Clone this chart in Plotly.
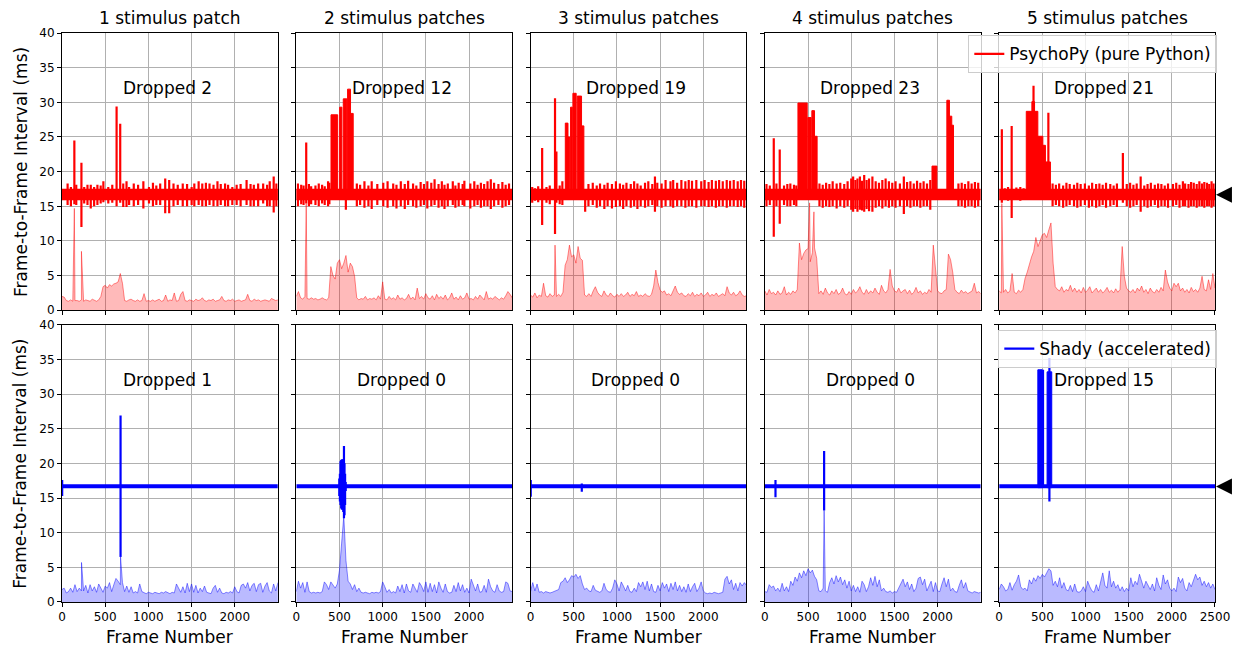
import plotly.graph_objects as go
from plotly.subplots import make_subplots

# ---------------- data ----------------
panel_titles = ["1 stimulus patch", "2 stimulus patches", "3 stimulus patches",
                "4 stimulus patches", "5 stimulus patches"]
psy_dropped = [2, 12, 19, 23, 21]
shady_dropped = [1, 0, 0, 0, 15]
x_max = [2499, 2499, 2499, 2499, 2500]
x_ticks = [0, 500, 1000, 1500, 2000, 2500]
y_ticks = [0, 5, 10, 15, 20, 25, 30, 35, 40]
target_interval = 16.67

# frames at which the jitter (lower, shaded) series was read
sd_frames = list(range(0, 2501, 25))

psy_sd = [
    [2.0, 1.9, 1.4, 1.3, 1.5, 1.3, 1.4, 1.4, 1.3, 1.5,
     1.3, 1.5, 1.4, 1.3, 1.6, 1.4, 1.3, 1.5, 2.0, 3.4,
     3.6, 3.2, 3.7, 3.5, 3.8, 3.9, 4.1, 5.3, 3.9, 1.4,
     1.3, 1.5, 1.6, 1.4, 1.3, 1.5, 1.3, 1.4, 2.4, 1.3,
     1.4, 1.3, 1.5, 1.3, 1.4, 1.6, 1.3, 1.4, 2.2, 1.3,
     1.5, 1.4, 2.5, 1.3, 1.4, 2.3, 2.7, 1.4, 1.3, 1.5,
     1.4, 1.3, 1.6, 1.4, 1.5, 1.8, 1.4, 1.3, 1.5, 1.4,
     1.6, 1.3, 1.4, 1.5, 2.0, 1.4, 1.3, 1.5, 1.4, 1.6,
     1.3, 1.4, 1.5, 1.3, 1.4, 1.5, 2.3, 1.4, 1.3, 1.6,
     1.4, 1.5, 1.3, 1.4, 1.5, 1.4, 1.3, 1.7, 1.6, 1.4,
     1.5],
    [2.0, 2.7, 1.8, 1.6, 2.0, 1.7, 1.6, 1.8, 1.6, 1.7,
     1.5, 1.6, 1.8, 1.6, 1.5, 1.8, 6.3, 5.0, 4.5, 6.8,
     7.3, 6.0, 6.8, 7.9, 5.5, 6.8, 6.3, 4.9, 1.8, 1.5,
     1.7, 1.6, 2.0, 1.5, 1.7, 1.6, 1.8, 1.5, 2.1, 1.6,
     4.1, 1.6, 1.5, 2.0, 1.6, 1.8, 1.5, 2.2, 1.6, 1.8,
     1.5, 1.7, 2.3, 1.6, 1.9, 1.5, 3.2, 1.7, 2.0, 1.6,
     2.4, 1.8, 1.6, 2.1, 1.5, 2.3, 1.7, 2.0, 1.6, 2.2,
     1.5, 1.8, 2.5, 1.6, 1.9, 1.5, 2.1, 1.6, 1.8, 2.5,
     1.6, 1.7, 1.5, 2.0, 1.6, 2.2, 1.8, 1.5, 2.7, 1.6,
     1.8, 1.6, 2.0, 1.7, 1.5, 1.8, 1.6, 2.1, 2.7, 2.3,
     1.8],
    [2.2, 1.9, 2.5, 1.8, 2.2, 2.0, 3.9, 2.1, 1.9, 2.4,
     2.0, 2.2, 2.0, 2.3, 2.0, 2.6, 6.5, 7.3, 9.4, 7.7,
     8.0, 6.8, 9.2, 7.5, 7.2, 2.2, 2.0, 2.4, 2.0, 2.8,
     3.4, 2.6, 2.2, 2.0, 2.8, 2.2, 2.0, 2.5, 2.1, 1.9,
     2.3, 2.0, 2.4, 2.0, 2.2, 2.6, 2.0, 2.3, 2.1, 2.7,
     2.0, 2.2, 2.0, 2.4, 2.1, 2.0, 2.3, 3.5, 5.8, 4.0,
     2.9, 2.6, 2.8, 2.2, 2.4, 2.1, 2.8, 3.5, 2.6, 2.3,
     2.5, 2.1, 2.0, 2.4, 2.1, 2.6, 2.0, 2.3, 2.1, 2.5,
     2.0, 2.2, 2.6, 2.0, 2.3, 2.1, 2.5, 2.0, 2.2, 2.4,
     2.1, 3.4, 2.5, 2.2, 2.6, 2.1, 2.3, 2.8, 2.2, 2.0,
     2.1],
    [2.8, 2.2, 3.0, 2.4, 2.6, 2.2, 2.8, 2.3, 2.5, 3.4,
     2.2, 2.6, 2.3, 2.8, 2.5, 3.0, 9.7, 7.3, 8.2, 8.7,
     8.9, 7.0, 8.3, 9.0, 7.5, 2.4, 2.8, 2.3, 3.2, 2.5,
     2.2, 2.8, 2.4, 3.0, 2.3, 2.5, 3.2, 2.4, 2.2, 2.7,
     2.3, 3.0, 2.5, 2.8, 3.4, 2.6, 2.3, 3.0, 2.4, 2.8,
     2.5, 3.2, 2.6, 2.3, 3.6, 2.8, 2.5, 3.0, 5.9, 3.5,
     2.8, 2.6, 3.2, 2.5, 2.8, 3.0, 2.4, 2.9, 2.3, 2.6,
     3.3, 2.5, 2.8, 2.3, 2.6, 2.4, 3.0, 2.6, 9.4, 6.0,
     2.8, 2.5, 2.4, 2.8, 3.0, 8.1, 7.3, 5.5, 3.0, 2.6,
     2.4, 2.9, 2.5, 2.7, 2.4, 2.6, 2.8, 3.9, 2.5, 2.7,
     2.4],
    [2.8, 2.5, 2.6, 3.0, 2.5, 2.8, 5.3, 2.6, 2.4, 2.9,
     2.6, 3.0, 4.6, 5.5, 6.8, 7.7, 8.5, 10.5, 9.2, 10.0,
     10.9, 11.1, 10.5, 11.6, 12.6, 6.8, 3.4, 3.0, 2.8, 3.4,
     2.6, 3.0, 2.8, 3.6, 2.7, 3.2, 2.6, 3.0, 2.5, 3.3,
     2.6, 2.9, 3.4, 2.5, 2.8, 3.2, 2.6, 3.0, 2.5, 2.8,
     3.3, 2.6, 2.9, 2.5, 3.1, 2.6, 3.0, 9.2, 4.9, 3.2,
     2.8, 2.6, 3.0, 2.5, 3.2, 2.8, 3.5, 2.6, 3.0, 2.4,
     3.2, 2.7, 2.5, 3.0, 2.6, 3.3, 2.8, 5.8, 4.1, 3.2,
     2.8, 3.9, 3.4, 3.9, 2.8, 3.2, 2.6, 3.0, 2.5, 3.3,
     2.7, 3.0, 2.6, 3.2, 4.9, 3.0, 2.8, 4.4, 3.0, 5.3,
     3.2],
]
psy_sd_extra_x = [[143, 225], [115], [283], [518, 568], [31]]
psy_sd_extra_y = [[14.7, 8.5], [15.4], [9.4], [15.5, 14.2], [15.4]]

shady_sd = [
    [1.8, 2.0, 1.3, 1.5, 2.0, 1.4, 2.5, 1.5, 2.0, 1.6,
     1.6, 2.4, 1.3, 2.5, 1.6, 2.2, 1.4, 2.6, 2.0, 1.4,
     2.3, 2.0, 2.8, 1.5, 2.5, 3.4, 3.0, 2.5, 2.8, 1.5,
     2.3, 1.4, 2.2, 1.3, 1.5, 1.3, 2.6, 1.5, 1.3, 1.2,
     1.4, 1.3, 1.2, 1.4, 1.3, 1.2, 1.4, 1.3, 1.5, 1.3,
     1.2, 1.4, 1.3, 2.6, 2.0, 1.4, 2.2, 1.3, 2.7, 1.5,
     2.6, 1.4, 2.4, 1.3, 2.0, 1.5, 2.3, 1.4, 1.3, 1.2,
     2.0, 2.4, 1.4, 2.0, 1.3, 1.2, 1.4, 1.3, 1.5, 1.3,
     2.2, 1.5, 1.3, 2.4, 2.6, 2.0, 2.8, 1.6, 2.4, 2.7,
     1.5, 2.5, 2.7, 1.4, 2.3, 2.8, 1.6, 1.3, 2.6, 1.6,
     2.8],
    [1.5, 3.0, 2.0, 2.8, 1.4, 2.9, 1.5, 1.3, 1.4, 1.3,
     1.4, 1.3, 1.5, 2.9, 2.5, 1.8, 2.9, 2.4, 2.0, 2.6,
     4.6, 8.5, 12.4, 6.0, 3.0, 2.6, 1.8, 2.5, 1.5, 2.0,
     1.4, 1.3, 1.4, 1.3, 1.2, 1.4, 1.3, 1.4, 1.3, 1.5,
     2.9, 2.2, 1.4, 1.8, 1.3, 1.5, 1.3, 2.3, 1.5, 2.5,
     1.3, 2.6, 1.6, 1.4, 2.6, 2.0, 1.4, 2.8, 2.3, 1.5,
     2.9, 1.4, 2.7, 1.5, 2.5, 1.3, 2.9, 2.0, 1.4, 2.6,
     1.5, 1.3, 1.4, 2.4, 1.5, 2.8, 1.6, 2.5, 1.4, 2.0,
     1.3, 3.3, 2.5, 1.6, 2.6, 1.4, 1.5, 2.4, 1.4, 3.3,
     2.2, 1.6, 1.4, 2.5, 1.6, 1.4, 1.5, 2.9, 2.7, 1.6,
     1.5],
    [1.5, 2.8, 1.6, 2.6, 1.4, 1.5, 1.3, 1.5, 1.4, 1.3,
     1.4, 1.5, 1.6, 1.8, 2.8, 3.0, 3.5, 2.8, 3.2, 3.8,
     3.6, 4.0, 3.4, 3.8, 2.6, 1.8, 2.0, 1.6, 1.5, 2.4,
     1.7, 1.5, 1.4, 1.6, 2.7, 1.8, 1.5, 1.4, 2.0, 3.2,
     2.6, 1.6, 2.9, 2.3, 1.6, 2.4, 1.5, 1.4, 2.0, 1.5,
     2.8, 2.2, 2.9, 1.8, 3.0, 1.6, 2.6, 1.5, 1.4, 2.4,
     1.6, 2.8, 2.0, 2.6, 1.5, 2.7, 1.8, 2.9, 1.6, 2.4,
     1.5, 2.2, 1.4, 2.6, 1.5, 2.2, 2.7, 1.5, 2.0, 2.9,
     1.6, 1.3, 1.2, 1.3, 1.2, 1.4, 1.3, 1.2, 1.3, 1.4,
     3.3, 3.7, 2.6, 3.2, 1.8, 2.7, 1.6, 2.8, 2.3, 2.8,
     2.4],
    [1.5, 1.4, 2.5, 2.1, 2.3, 1.6, 2.0, 1.5, 2.7, 1.6,
     2.2, 1.5, 3.0, 2.4, 3.6, 3.0, 4.2, 3.5, 4.5, 3.8,
     4.8, 4.2, 4.6, 3.7, 3.2, 1.6, 1.5, 2.0, 1.6, 1.4,
     2.8, 3.5, 2.6, 3.8, 2.9, 3.6, 2.5, 3.2, 2.0, 3.0,
     1.6, 2.4, 1.5, 2.2, 1.4, 3.0, 2.5, 1.5, 2.2, 3.5,
     2.4, 3.7, 2.2, 3.2, 1.6, 2.0, 1.5, 1.4, 1.6, 1.3,
     1.5, 1.4, 2.0, 2.6, 3.3, 2.2, 2.9, 1.8, 2.6, 1.5,
     2.0, 3.4, 3.6, 2.5, 3.3, 1.6, 2.4, 3.0, 1.5, 2.8,
     1.6, 1.5, 2.6, 3.5, 2.2, 3.3, 1.6, 2.0, 1.5, 1.4,
     2.4, 3.2, 2.0, 2.8, 1.6, 1.4, 1.3, 1.5, 1.4, 1.3,
     1.4],
    [1.8, 2.6, 2.2, 1.6, 1.8, 2.8, 1.7, 2.5, 3.0, 3.9,
     2.2, 1.8, 2.0, 1.6, 3.2, 2.6, 3.5, 3.0, 3.8, 3.4,
     4.0, 3.6, 4.2, 4.8, 4.5, 2.4, 3.0, 2.2, 3.5, 2.0,
     2.8, 1.8, 1.6, 2.4, 1.5, 2.6, 1.5, 1.4, 1.6, 2.2,
     1.5, 3.0, 2.2, 1.6, 1.4, 2.5, 1.6, 2.8, 4.2, 2.4,
     2.0, 4.5, 2.2, 3.0, 2.0, 2.5, 1.6, 2.2, 1.5, 2.0,
     1.6, 3.5, 2.2, 3.0, 2.5, 4.0, 2.8, 2.0, 3.0, 2.4,
     1.8, 2.6, 1.6, 3.5, 2.4, 1.8, 3.9, 2.6, 3.2, 2.0,
     1.6, 2.0, 1.5, 3.6, 2.8, 3.4, 2.0, 1.6, 2.8, 2.2,
     3.0, 4.0, 3.2, 3.6, 2.4, 3.0, 2.2, 2.8, 2.0, 2.6,
     1.8],
]
shady_sd_extra_x = [[226, 678], [], [], [686], []]
shady_sd_extra_y = [[5.7, 6.5], [], [], [13.2], []]

# PsychoPy frame intervals: steady band, individual excursions, sustained bursts
psy_band_lo = [15.9, 15.9, 15.9, 15.9, 15.9]
psy_band_hi = [17.5, 17.5, 17.5, 17.5, 17.5]

psy_bar_x = [
    [65, 103, 143, 165, 225, 257, 295, 333, 372, 410, 448, 479, 536, 582, 632, 674, 709, 747, 777, 831,
     881, 942, 1007, 1053, 1092, 1137, 1195, 1241, 1291, 1340, 1398, 1448, 1501, 1532, 1582, 1624, 1666,
     1708, 1754, 1800, 1838, 1888, 1923, 1972, 2022, 2068, 2137, 2183, 2221, 2271, 2329, 2375, 2405, 2451, 2482],
    [19, 57, 84, 115, 146, 172, 222, 260, 299, 329, 368, 383, 574, 701, 739, 789, 835, 873, 938, 1007,
     1057, 1122, 1160, 1210, 1256, 1295, 1352, 1390, 1440, 1478, 1517, 1563, 1601, 1647, 1685, 1716, 1754,
     1812, 1842, 1880, 1926, 1946, 2015, 2061, 2099, 2137, 2175, 2214, 2252, 2290, 2340, 2386, 2424, 2463],
    [19, 50, 88, 134, 184, 222, 283, 299, 337, 368, 632, 670, 720, 766, 804, 854, 892, 942, 988, 1034,
     1072, 1110, 1160, 1199, 1237, 1275, 1325, 1363, 1409, 1440, 1467, 1517, 1563, 1620, 1651, 1697, 1746,
     1792, 1831, 1869, 1919, 1976, 2015, 2061, 2099, 2145, 2183, 2225, 2271, 2310, 2352, 2398, 2436, 2474],
    [19, 57, 103, 134, 172, 222, 260, 295, 337, 364, 632, 670, 709, 747, 785, 831, 873, 919, 958, 1000,
     1022, 1048, 1072, 1100, 1125, 1150, 1178, 1206, 1245, 1283, 1321,
     1360, 1398, 1436, 1475, 1513, 1563, 1609, 1647, 1685, 1724, 1762, 1800, 1838, 1877, 1915, 2241, 2279,
     2317, 2356, 2394, 2432, 2470],
    [31, 65, 103, 145, 199, 245, 283, 398, 570, 619, 657, 695, 741, 779, 817, 867, 905, 944, 993, 1039,
     1077, 1123, 1161, 1199, 1238, 1287, 1326, 1364, 1433, 1478, 1517, 1555, 1593, 1639, 1681, 1719, 1757,
     1803, 1841, 1879, 1918, 1956, 2013, 2051, 2089, 2128, 2154, 2193, 2223, 2254, 2288, 2319, 2349, 2376,
     2407, 2433, 2460, 2483],
]
psy_bar_hi = [
    [18.3, 17.8, 24.5, 18.1, 21.3, 17.8, 18.1, 18.1, 17.8, 18.1, 18.0, 18.6, 17.8, 18.1, 29.4, 26.9, 18.3,
     18.6, 17.8, 18.3, 18.1, 18.6, 17.8, 18.4, 18.0, 18.3, 19.0, 18.8, 18.3, 18.1, 18.3, 18.2, 17.8, 18.3,
     18.6, 18.3, 18.4, 18.3, 18.1, 18.6, 18.2, 18.3, 18.1, 17.8, 18.1, 18.2, 18.8, 18.2, 18.1, 18.3, 18.3,
     18.1, 18.6, 19.3, 18.3],
    [18.3, 18.1, 18.0, 24.2, 18.2, 17.9, 18.0, 18.3, 18.1, 17.9, 18.6, 18.4, 17.0, 18.3, 18.1, 18.6, 18.0,
     18.6, 18.2, 18.4, 18.6, 18.3, 18.1, 18.6, 18.2, 18.7, 18.3, 18.0, 18.5, 18.2, 18.6, 18.4, 18.9, 18.2,
     18.6, 18.1, 18.3, 18.6, 18.0, 18.4, 18.2, 18.7, 18.3, 18.6, 18.1, 18.4, 18.2, 18.6, 18.9, 18.4, 18.2,
     18.5, 18.1, 18.3],
    [17.8, 17.6, 17.9, 23.4, 17.8, 18.0, 30.6, 22.9, 18.0, 18.6, 17.5, 18.2, 18.4, 18.0, 18.3, 18.1, 18.4,
     18.2, 18.6, 18.3, 18.1, 18.4, 18.2, 18.6, 18.3, 18.0, 18.4, 18.6, 18.2, 19.3, 18.4, 18.3, 18.8, 18.6,
     18.8, 18.4, 18.8, 18.6, 18.8, 18.7, 18.8, 18.6, 18.8, 18.5, 18.8, 18.7, 18.8, 18.6, 18.8, 18.7, 18.8,
     18.6, 18.8, 18.7],
    [18.2, 18.0, 24.8, 18.3, 23.2, 18.0, 18.2, 18.3, 18.1, 18.0, 18.3, 18.1, 18.4, 18.2, 18.6, 18.3, 18.4,
     18.2, 18.6, 19.0, 19.3, 18.8, 19.0, 19.3, 18.7, 19.5, 18.8, 19.0, 19.3, 18.6, 18.4,
     18.8, 19.0, 18.6, 18.4, 18.6, 18.3, 19.3, 18.5, 18.6, 18.3, 18.7, 18.4, 18.6, 18.3,
     18.8, 18.3, 18.4, 18.2, 18.6, 18.3, 18.5, 18.4],
    [26.1, 17.6, 17.8, 26.6, 17.7, 17.8, 17.6, 32.4, 28.5, 18.3, 18.1, 18.3, 18.0, 18.4, 18.2, 18.1, 18.4,
     18.2, 18.3, 18.0, 18.4, 18.2, 18.3, 18.1, 18.4, 18.2, 18.0, 18.3, 22.7, 18.2, 18.4, 18.1, 18.3, 19.3,
     18.0, 18.2, 18.4, 18.1, 18.3, 18.2, 18.0, 18.3, 18.2, 18.4, 18.1, 18.6, 18.3, 18.2, 18.5, 18.4, 18.2,
     18.6, 18.3, 18.5, 18.4, 18.2, 18.6, 18.3],
]
psy_bar_lo = [
    [15.2, 15.0, 15.3, 15.2, 12.0, 15.4, 15.2, 14.7, 15.0, 15.2, 15.4, 15.6, 15.4, 15.5, 15.0, 15.5, 14.9,
     14.9, 15.2, 15.0, 15.2, 14.7, 15.4, 15.0, 15.2, 15.2, 14.0, 14.0, 15.0, 15.2, 15.0, 15.0, 15.2, 15.0,
     15.2, 15.0, 15.0, 15.2, 15.0, 15.0, 15.2, 15.0, 15.0, 15.2, 15.2, 15.0, 15.2, 15.0, 15.0, 15.0, 15.4,
     15.0, 15.0, 14.1, 15.0],
    [15.0, 15.3, 15.2, 15.4, 15.0, 15.3, 15.2, 15.0, 15.4, 15.2, 15.0, 15.3, 14.5, 15.0, 15.2, 14.8, 15.0,
     14.6, 15.2, 15.0, 14.8, 15.0, 14.7, 15.0, 14.6, 15.2, 15.0, 14.8, 15.0, 15.2, 14.7, 15.0, 15.2, 14.8,
     15.0, 14.6, 15.0, 15.2, 14.8, 15.0, 15.2, 15.0, 14.7, 15.0, 15.2, 14.8, 15.0, 15.0, 14.6, 15.0, 15.2,
     14.8, 15.0, 15.2],
    [15.5, 15.8, 15.6, 12.3, 15.5, 15.3, 11.0, 15.5, 15.3, 15.2, 14.2, 15.0, 15.2, 14.8, 15.0, 14.6, 15.0,
     14.7, 14.9, 15.0, 14.6, 15.0, 14.8, 15.0, 14.6, 15.0, 14.8, 15.0, 15.2, 14.2, 15.0, 14.8, 15.0, 15.0,
     14.8, 15.0, 15.0, 14.8, 15.0, 15.0, 14.8, 15.0, 15.0, 14.9, 15.0, 14.8, 15.0, 15.0, 14.8, 15.0, 15.0,
     14.9, 15.0, 14.8],
    [15.0, 15.2, 10.6, 15.0, 12.5, 15.2, 15.0, 15.0, 15.2, 15.0, 15.0, 14.8, 15.0, 14.9, 15.0, 14.7, 15.0,
     14.8, 15.0, 14.5, 14.2, 14.6, 14.2, 14.5, 14.4, 14.2, 14.6, 14.3, 14.2, 14.8, 15.0,
     14.7, 15.0, 14.8, 15.0, 14.8, 15.0, 13.9, 15.0, 14.8, 15.0, 15.0, 14.8, 15.0, 15.0,
     14.5, 15.0, 15.0, 14.8, 15.0, 15.0, 14.8, 15.0],
    [15.5, 15.9, 15.8, 13.3, 15.9, 15.8, 15.9, 16.5, 16.5, 15.0, 15.2, 15.0, 14.8, 15.0, 15.2, 15.0, 14.8,
     15.0, 15.2, 14.8, 15.0, 14.8, 15.0, 15.2, 14.8, 15.0, 15.2, 14.9, 15.5, 15.0, 14.8, 15.0, 15.2, 14.2,
     15.0, 14.8, 15.0, 15.2, 14.8, 15.0, 15.0, 14.8, 15.0, 15.2, 14.8, 15.0, 15.0, 14.8, 15.0, 15.0, 14.8,
     15.0, 15.0, 14.8, 15.0, 15.0, 14.8, 15.0],
]
psy_burst_x0 = [[], [402, 502, 544, 594, 628], [402, 433, 463, 490, 540, 590],
                [383, 498, 544, 575, 1935, 2107, 2137, 2164], [314, 379, 410, 448, 506, 536]]
psy_burst_x1 = [[], [479, 528, 586, 628, 659], [433, 452, 483, 528, 590, 617],
                [490, 536, 575, 605, 1992, 2137, 2164, 2184], [379, 410, 448, 506, 536, 594]]
psy_burst_top = [[], [28.2, 29.3, 30.5, 31.9, 28.4], [27.0, 25.0, 29.3, 31.3, 30.9, 26.6],
                 [29.9, 27.8, 28.8, 25.1, 20.8, 30.3, 28.0, 26.7], [28.7, 30.1, 28.7, 25.1, 23.8, 21.4]]
psy_burst_base = 16.3

# Shady frame intervals
shady_level = [16.7, 16.7, 16.7, 16.7, 16.7]
shady_bar_x = [[2, 678], [498, 505, 512, 520, 528, 536, 544, 552, 558, 565, 572], [2, 593], [123, 686], [508, 582]]
shady_bar_hi = [[17.6, 26.9], [17.8, 18.5, 20.3, 20.5, 20.6, 20.4, 20.6, 22.5, 20.0, 18.5, 17.3],
                [17.6, 17.1], [17.6, 21.8], [33.5, 35.2]]
shady_bar_lo = [[15.3, 6.5], [15.3, 14.5, 14.0, 13.5, 13.3, 13.5, 13.0, 12.1, 12.5, 14.0, 16.0],
                [15.2, 15.9], [15.1, 13.2], [16.5, 14.5]]
shady_burst_x0 = [[], [], [], [], [448, 555]]
shady_burst_x1 = [[], [], [], [], [498, 609]]
shady_burst_top = [[], [], [], [], [33.5, 33.2]]
shady_burst_base = 16.5

# ---------------- helpers ----------------
FONT = "DejaVu Sans"


def merged(gx, gy, ex, ey):
    pts = sorted(list(zip(gx, gy)) + list(zip(ex, ey)))
    return [p[0] for p in pts], [p[1] for p in pts]


def bar_xy(xs, his, los):
    X, Y = [], []
    for x, h, l in zip(xs, his, los):
        X += [x, x, None]
        Y += [l, h, None]
    return X, Y


def block_xy(x0s, x1s, tops, base):
    X, Y = [], []
    for a, b, t in zip(x0s, x1s, tops):
        X += [a, a, b, b, a, None]
        Y += [base, t, t, base, base, None]
    return X, Y


fig = make_subplots(rows=2, cols=5, horizontal_spacing=0.016, vertical_spacing=0.0254)

styles = [
    dict(main="#ff0000", sd_line="rgba(255,0,0,0.45)", sd_fill="rgba(255,0,0,0.27)"),
    dict(main="#0000ff", sd_line="rgba(0,0,255,0.45)", sd_fill="rgba(0,0,255,0.27)"),
]

for c in range(5):
    # ---- top row: PsychoPy
    sx, sy = merged(sd_frames, psy_sd[c], psy_sd_extra_x[c], psy_sd_extra_y[c])
    fig.add_trace(go.Scatter(x=sx, y=sy, mode="lines", line=dict(color=styles[0]["sd_line"], width=1),
                             fill="tozeroy", fillcolor=styles[0]["sd_fill"], showlegend=False), row=1, col=c + 1)
    bx = [0, x_max[c], x_max[c], 0, 0]
    by = [psy_band_lo[c], psy_band_lo[c], psy_band_hi[c], psy_band_hi[c], psy_band_lo[c]]
    fig.add_trace(go.Scatter(x=bx, y=by, mode="lines", line=dict(color=styles[0]["main"], width=0.5),
                             fill="toself", fillcolor=styles[0]["main"], showlegend=False), row=1, col=c + 1)
    if psy_burst_x0[c]:
        kx, ky = block_xy(psy_burst_x0[c], psy_burst_x1[c], psy_burst_top[c], psy_burst_base)
        fig.add_trace(go.Scatter(x=kx, y=ky, mode="lines", line=dict(color=styles[0]["main"], width=1),
                                 fill="toself", fillcolor=styles[0]["main"], showlegend=False), row=1, col=c + 1)
    vx, vy = bar_xy(psy_bar_x[c], psy_bar_hi[c], psy_bar_lo[c])
    fig.add_trace(go.Scatter(x=vx, y=vy, mode="lines", line=dict(color=styles[0]["main"], width=2.2),
                             name="PsychoPy (pure Python)", showlegend=(c == 4), legend="legend"),
                  row=1, col=c + 1)

    # ---- bottom row: Shady
    sx, sy = merged(sd_frames, shady_sd[c], shady_sd_extra_x[c], shady_sd_extra_y[c])
    fig.add_trace(go.Scatter(x=sx, y=sy, mode="lines", line=dict(color=styles[1]["sd_line"], width=1),
                             fill="tozeroy", fillcolor=styles[1]["sd_fill"], showlegend=False), row=2, col=c + 1)
    fig.add_trace(go.Scatter(x=[0, x_max[c]], y=[shady_level[c], shady_level[c]], mode="lines",
                             line=dict(color=styles[1]["main"], width=4), showlegend=False), row=2, col=c + 1)
    if shady_burst_x0[c]:
        kx, ky = block_xy(shady_burst_x0[c], shady_burst_x1[c], shady_burst_top[c], shady_burst_base)
        fig.add_trace(go.Scatter(x=kx, y=ky, mode="lines", line=dict(color=styles[1]["main"], width=1),
                                 fill="toself", fillcolor=styles[1]["main"], showlegend=False), row=2, col=c + 1)
    vx, vy = bar_xy(shady_bar_x[c], shady_bar_hi[c], shady_bar_lo[c])
    fig.add_trace(go.Scatter(x=vx, y=vy, mode="lines", line=dict(color=styles[1]["main"], width=2.2),
                             name="Shady (accelerated)", showlegend=(c == 4), legend="legend2"),
                  row=2, col=c + 1)

axis_common = dict(showgrid=True, gridcolor="#b0b0b0", gridwidth=1, showline=True, linecolor="black",
                   linewidth=1, mirror=True, ticks="outside", ticklen=4, tickwidth=1, tickcolor="black",
                   zeroline=False, tickfont=dict(family=FONT, size=12, color="black"))

annotations = []
for i in range(1, 11):
    r = 1 if i <= 5 else 2
    c = (i - 1) % 5
    xa = "xaxis" if i == 1 else f"xaxis{i}"
    ya = "yaxis" if i == 1 else f"yaxis{i}"
    fig.layout[xa].update(range=[0, x_max[c]], tickvals=[t for t in x_ticks if t <= x_max[c]],
                          showticklabels=(r == 2), **axis_common)
    fig.layout[ya].update(range=[0, 40], tickvals=y_ticks, showticklabels=(c == 0), **axis_common)
    dropped = psy_dropped[c] if r == 1 else shady_dropped[c]
    annotations.append(dict(text=f"Dropped {dropped}", x=1220, y=32, xref=f"x{i}", yref=f"y{i}",
                            showarrow=False, font=dict(family=FONT, size=17, color="black"),
                            xanchor="center", yanchor="middle"))

for c in range(5):
    dom = fig.layout["xaxis" if c == 0 else f"xaxis{c + 1}"].domain
    xc = (dom[0] + dom[1]) / 2
    annotations.append(dict(text=panel_titles[c], x=xc, y=1.026, xref="paper", yref="paper",
                            showarrow=False, font=dict(family=FONT, size=17, color="black"),
                            xanchor="center", yanchor="middle"))
    annotations.append(dict(text="Frame Number", x=xc, y=-0.061, xref="paper", yref="paper",
                            showarrow=False, font=dict(family=FONT, size=17, color="black"),
                            xanchor="center", yanchor="middle"))

for yc in (0.7565, 0.2439):
    annotations.append(dict(text="Frame-to-Frame Interval (ms)", x=-0.036, y=yc, xref="paper", yref="paper",
                            showarrow=False, textangle=-90, font=dict(family=FONT, size=17, color="black"),
                            xanchor="center", yanchor="middle"))

# target-interval markers (black triangles) just outside the right-most panels
shapes = []
tri_half = 1.15  # half-height in ms units
for ya in ("y5", "y10"):
    t = target_interval
    shapes.append(dict(type="path", xref="paper", yref=ya, fillcolor="black", line=dict(width=0),
                       path=f"M 1.0009 {t} L 1.0147 {t + tri_half} L 1.0147 {t - tri_half} Z"))

legend_style = dict(xanchor="right", yanchor="top", bgcolor="rgba(255,255,255,0.8)", bordercolor="#cccccc",
                    borderwidth=1, font=dict(family=FONT, size=17, color="black"))

fig.update_layout(
    width=1242, height=646,
    margin=dict(l=62, r=21, t=33, b=44),
    paper_bgcolor="white", plot_bgcolor="white",
    font=dict(family=FONT, color="black"),
    annotations=annotations,
    shapes=shapes,
    hovermode=False,
    legend=dict(x=1.002, y=0.996, **legend_style),
    legend2=dict(x=1.002, y=0.478, **legend_style),
)

fig.write_html("out.html", config={"displayModeBar": False},
               post_script="document.body.style.margin='0px';")
